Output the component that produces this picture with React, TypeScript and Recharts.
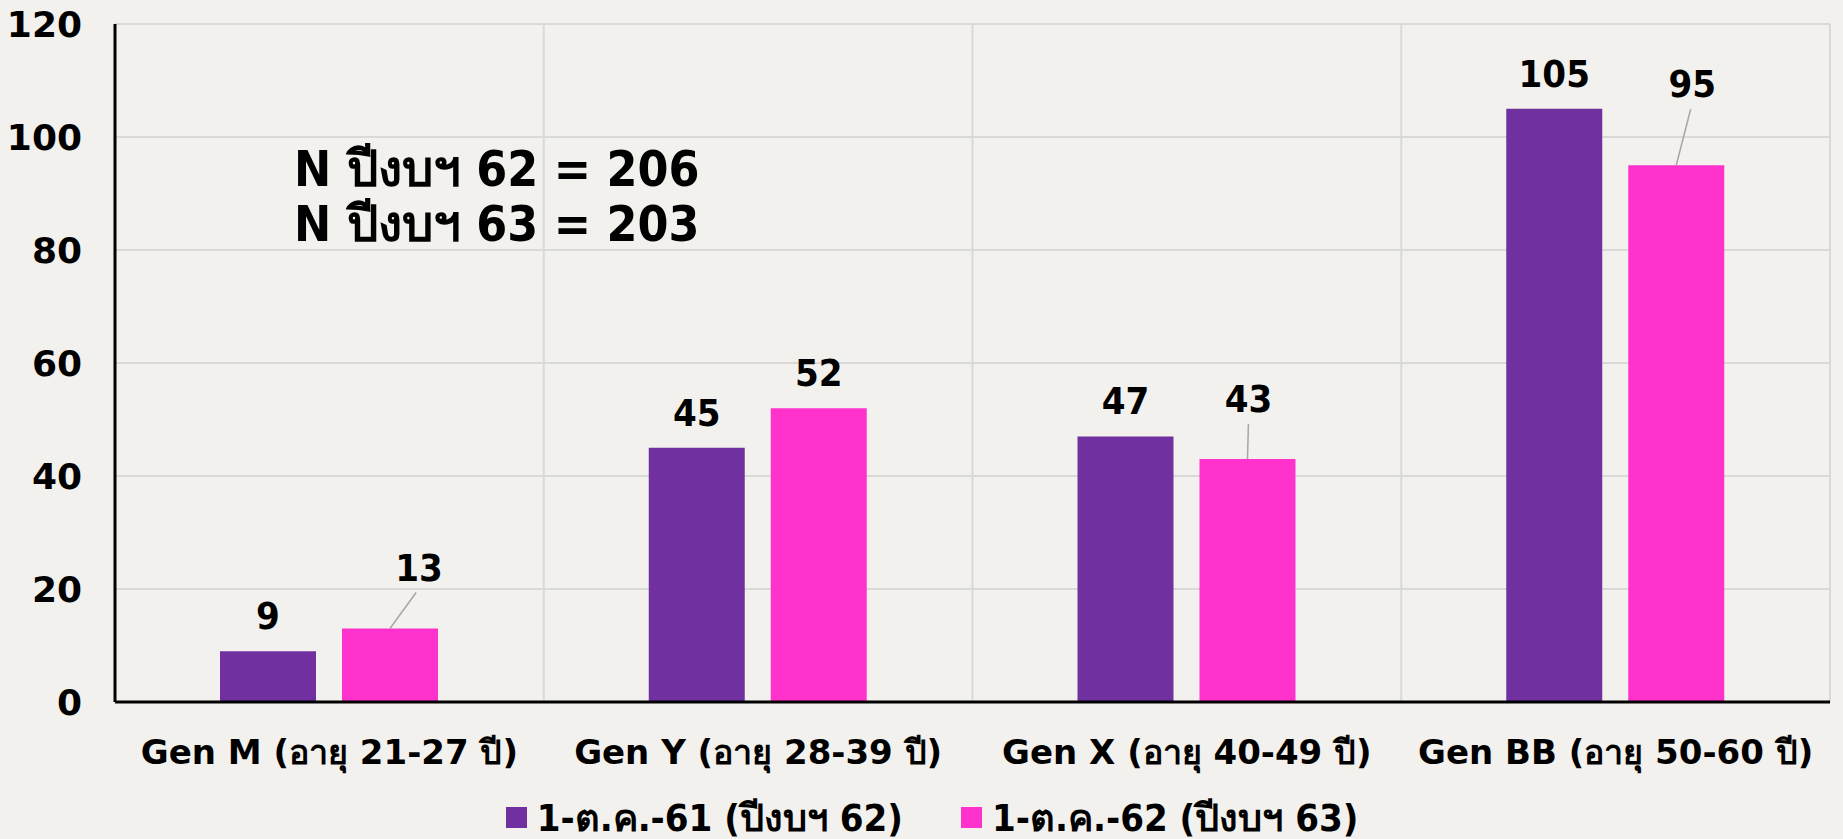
import React from "react";
import {
  BarChart,
  Bar,
  XAxis,
  YAxis,
  CartesianGrid,
  LabelList,
  Legend,
  Customized,
} from "recharts";

const categories = [
  "Gen M (อายุ 21-27 ปี)",
  "Gen Y (อายุ 28-39 ปี)",
  "Gen X (อายุ 40-49 ปี)",
  "Gen BB (อายุ 50-60 ปี)",
];
const fy62 = [9, 45, 47, 105];
const fy63 = [13, 52, 43, 95];
const seriesNames = ["1-ต.ค.-61 (ปีงบฯ 62)", "1-ต.ค.-62 (ปีงบฯ 63)"];
const yTicks = [0, 20, 40, 60, 80, 100, 120];
const totals = ["N ปีงบฯ 62 = 206", "N ปีงบฯ 63 = 203"];

// label nudges (dx, dy) for the pink series, like the moved labels in the original
const pinkLabelShift = [
  [29, -26],
  [0, 0],
  [1, -25],
  [16, -46],
];

const PURPLE = "#7030A0";
const PINK = "#FF33CC";
const BG = "#F3F1ED";
const FONT = "'DejaVu Sans Condensed', 'DejaVu Sans', sans-serif";
const WIDE = "'DejaVu Sans', sans-serif";

const data = categories.map((name, i) => ({
  name,
  fy62: fy62[i],
  fy63: fy63[i],
}));

function makeLabel(shift?: number[][]) {
  return (props: any) => {
    const { x, y, width, value, index } = props;
    const cx = x + width / 2;
    const [dx, dy] = shift ? shift[index] : [0, 0];
    const ly = y - 35 + dy;
    const lx = cx + dx;
    const moved = Math.abs(dx) + Math.abs(dy) > 5;
    return (
      <g>
        {moved && (
          <line
            x1={cx}
            y1={y}
            x2={lx - dx * 0.1}
            y2={ly + 25}
            stroke="#A6A6A6"
            strokeWidth={1.5}
          />
        )}
        <text
          x={lx}
          y={ly + 13}
          textAnchor="middle"
          fontFamily={FONT}
          fontWeight="bold"
          fontSize={38}
          fill="#000"
        >
          {value}
        </text>
      </g>
    );
  };
}

const LegendBox = () => (
  <div
    style={{
      display: "flex",
      justifyContent: "center",
      alignItems: "center",
      gap: 58,
      fontFamily: FONT,
      fontWeight: "bold",
      fontSize: 38,
      color: "#000",
      height: 50,
      paddingTop: 4,
      paddingLeft: 34,
      boxSizing: "border-box",
    }}
  >
    {seriesNames.map((n, i) => (
      <span key={n} style={{ display: "flex", alignItems: "center" }}>
        <span
          style={{
            width: 21,
            height: 21,
            background: i === 0 ? PURPLE : PINK,
            marginRight: 10,
            display: "inline-block",
          }}
        />
        {n}
      </span>
    ))}
  </div>
);

export default function App() {
  return (
    <div
      style={{
        position: "absolute",
        left: 0,
        top: 0,
        width: 1843,
        height: 839,
        background: BG,
      }}
    >
      <BarChart
        width={1843}
        height={839}
        data={data}
        margin={{ top: 24, right: 13, left: 0, bottom: 0 }}
        barSize={96}
        barGap={26}
      >
        <CartesianGrid
          stroke="#D9D9D9"
          strokeWidth={2}
          verticalCoordinatesGenerator={({ offset }: any) =>
            categories.map(
              (_, i) => offset.left + ((i + 1) * offset.width) / categories.length
            )
          }
        />
        <XAxis
          dataKey="name"
          axisLine={{ stroke: "#000", strokeWidth: 3 }}
          tickLine={false}
          tickSize={0}
          tickMargin={38}
          height={88}
          interval={0}
          tick={{
            fill: "#000",
            fontFamily: WIDE,
            fontWeight: "bold",
            fontSize: 34,
          }}
        />
        <YAxis
          domain={[0, 120]}
          ticks={yTicks}
          width={115}
          axisLine={{ stroke: "#000", strokeWidth: 3 }}
          tickLine={false}
          tickSize={0}
          tickMargin={33}
          tick={{
            fill: "#000",
            fontFamily: WIDE,
            fontWeight: "bold",
            fontSize: 36,
          }}
        />
        <Legend
          verticalAlign="bottom"
          height={49}
          content={() => <LegendBox />}
        />
        <Bar dataKey="fy62" name={seriesNames[0]} fill={PURPLE} isAnimationActive={false}>
          <LabelList dataKey="fy62" content={makeLabel()} />
        </Bar>
        <Bar dataKey="fy63" name={seriesNames[1]} fill={PINK} isAnimationActive={false}>
          <LabelList dataKey="fy63" content={makeLabel(pinkLabelShift)} />
        </Bar>
        <Customized
          component={() => (
            <g>
              {totals.map((t, i) => (
                <text
                  key={t}
                  x={294}
                  y={186 + i * 55}
                  fontFamily={FONT}
                  fontWeight="bold"
                  fontSize={49.5}
                  fill="#000"
                >
                  {t}
                </text>
              ))}
            </g>
          )}
        />
      </BarChart>
    </div>
  );
}
